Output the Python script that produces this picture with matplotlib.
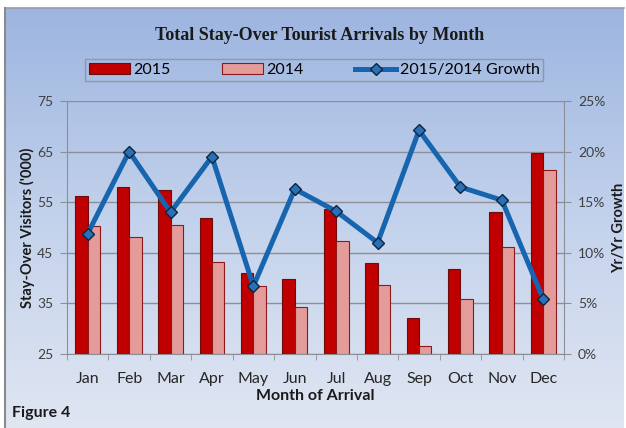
import numpy as np
import matplotlib.pyplot as plt
from matplotlib.ticker import PercentFormatter, FixedLocator
from matplotlib.colors import LinearSegmentedColormap

months = ['Jan', 'Feb', 'Mar', 'Apr', 'May', 'Jun', 'Jul', 'Aug', 'Sep', 'Oct', 'Nov', 'Dec']
arrivals_2015 = [56.2, 58.0, 57.5, 51.9, 41.1, 39.8, 53.6, 43.0, 32.2, 41.8, 53.0, 64.7]
arrivals_2014 = [50.2, 48.2, 50.4, 43.2, 38.5, 34.2, 47.4, 38.6, 26.5, 35.9, 46.1, 61.3]
growth = [0.119, 0.200, 0.140, 0.195, 0.067, 0.163, 0.141, 0.110, 0.221, 0.165, 0.152, 0.054]

W, H = 626, 428
fig = plt.figure(figsize=(W / 100, H / 100), dpi=100)
fig.patch.set_facecolor('white')

# blue-to-pale vertical gradient behind the whole chart
bg = fig.add_axes([5 / W, 0, 619 / W, 1 - 8 / H], zorder=-5)
grad = LinearSegmentedColormap.from_list('bg', ['#9db5e0', '#c3d2ec', '#e0e6f2'])
bg.imshow(np.linspace(1, 0, 256).reshape(-1, 1), aspect='auto', cmap=grad,
          extent=[0, 1, 0, 1], origin='lower')
bg.set_xlim(0, 1)
bg.set_ylim(0, 1)
bg.set_xticks([])
bg.set_yticks([])
for side in ['top', 'right', 'bottom']:
    bg.spines[side].set_visible(False)
bg.spines['left'].set_color('#8a8a8a')
bg.spines['left'].set_linewidth(1.5)
bg.plot([0, 1], [1, 1], color='#9a9aa8', lw=1.2, transform=bg.transAxes, clip_on=False)

left, right, top, bottom = 67, 564, 101, 354
ax = fig.add_axes([left / W, 1 - bottom / H, (right - left) / W, (bottom - top) / H])
ax.set_facecolor('none')

x = np.arange(len(months))
bw = 0.30
b1 = ax.bar(x - bw / 2, [v - 25 for v in arrivals_2015], bw, bottom=25,
            color='#c00000', edgecolor='#6e0b0b', linewidth=0.8, label='2015', zorder=3)
b2 = ax.bar(x + bw / 2, [v - 25 for v in arrivals_2014], bw, bottom=25,
            color='#e39c9a', edgecolor='#8c1a1a', linewidth=0.8, label='2014', zorder=3)

ax.set_xlim(-0.5, len(months) - 0.5)
ax.set_ylim(25, 75)
ax.set_yticks([25, 35, 45, 55, 65, 75])
ax.grid(axis='y', color='#8e8e96', linewidth=1.0, zorder=0)
ax.set_axisbelow(True)
for side in ['left', 'bottom', 'right', 'top']:
    ax.spines[side].set_color('#8e8e96')
ax.spines['top'].set_visible(False)
ax.spines['right'].set_visible(False)

ax.set_xticks(x)
ax.set_xticklabels(months, fontsize=11.5, family='Lato', color='#262626')
ax.xaxis.set_minor_locator(FixedLocator(np.arange(-0.5, len(months), 1.0)))
ax.tick_params(axis='x', which='major', length=0, pad=13)
ax.tick_params(axis='x', which='minor', length=4, color='#8e8e96')
ax.tick_params(axis='y', length=5, color='#8e8e96', labelsize=10, labelcolor='#404040', pad=5)
for t in ax.get_yticklabels():
    t.set_family('Lato')

ax.set_xlabel('Month of Arrival', fontsize=11.5, fontweight='bold', family='Lato',
              color='#1a1a1a', labelpad=2)
ax.set_ylabel("Stay-Over Visitors ('000)", fontsize=10.5, fontweight='bold', family='Lato',
              color='#1a1a1a', labelpad=1)

ax2 = ax.twinx()
ax2.set_ylim(0, 0.25)
ax2.set_yticks([0, 0.05, 0.10, 0.15, 0.20, 0.25])
ax2.yaxis.set_major_formatter(PercentFormatter(1.0, decimals=0))
ax2.tick_params(axis='y', length=5, color='#8e8e96', labelsize=10, labelcolor='#404040', pad=5)
for t in ax2.get_yticklabels():
    t.set_family('Lato')
for side in ['left', 'bottom', 'top']:
    ax2.spines[side].set_visible(False)
ax2.spines['right'].set_color('#8e8e96')
ln, = ax2.plot(x, growth, color='#1765ae', linewidth=3.6, marker='D', markersize=6.3,
               markerfacecolor='#2a70b5', markeredgecolor='#0b2540', markeredgewidth=1.0,
               label='2015/2014 Growth', zorder=5)
ax2.set_ylabel('Yr/Yr Growth', fontsize=10.5, fontweight='bold', family='Lato',
               color='#1a1a1a', labelpad=5)

fig.text(320 / W, 1 - 35 / H, 'Total Stay-Over Tourist Arrivals by Month', ha='center',
         va='center', fontsize=13, fontweight='bold', family='Liberation Serif', color='#1a1a1a')

leg = fig.legend([b1, b2, ln], ['2015', '2014', '2015/2014 Growth'], ncol=3,
                 loc='center', bbox_to_anchor=(314 / W, 1 - 70 / H), frameon=True,
                 fancybox=False, handlelength=2.6, handleheight=0.7, columnspacing=3.2,
                 handletextpad=0.2, borderpad=0.25, prop={'family': 'Lato', 'size': 11.5})
leg.get_frame().set_facecolor('none')
leg.get_frame().set_edgecolor('#8e8e96')
leg.get_frame().set_linewidth(1.0)

fig.text(12 / W, 1 - 413 / H, 'Figure 4', ha='left', va='center', fontsize=11.5,
         fontweight='bold', family='Lato', color='#1a1a1a')

fig.savefig('out.png', dpi=100)
